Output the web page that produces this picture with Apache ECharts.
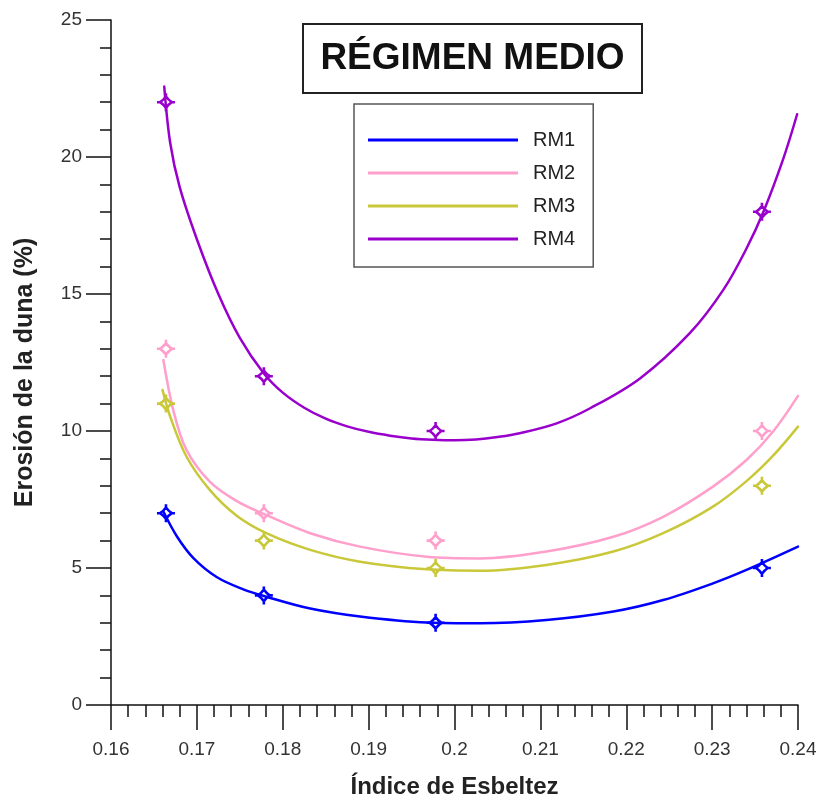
<!DOCTYPE html>
<html>
<head>
<meta charset="utf-8">
<script src="https://cdn.jsdelivr.net/npm/echarts@6/dist/echarts.min.js"></script>
<style>html,body{margin:0;padding:0;background:#fff;}#c{width:820px;height:799px;}</style>
</head>
<body>
<div id="c"></div>
<script>
// ---- data ----
var seriesNames = ['RM1', 'RM2', 'RM3', 'RM4'];
var seriesColors = ['#0000FF', '#FF9FCB', '#C9C83A', '#9900CC'];
var pointX = [0.1664, 0.1778, 0.1978, 0.2358];
var rm1Points = [7, 4, 3, 5];
var rm2Points = [13, 7, 6, 10];
var rm3Points = [11, 6, 5, 8];
var rm4Points = [22, 12, 10, 18];
// fitted curves
var rm1Curve = [[0.1661,7.06],[0.1677,6.14],[0.1696,5.36],[0.1723,4.67],[0.1754,4.22],[0.1781,3.95],[0.1832,3.52],[0.1890,3.23],[0.1968,3.01],[0.2030,2.98],[0.2107,3.10],[0.2185,3.41],[0.2243,3.83],[0.2301,4.44],[0.2340,4.93],[0.2400,5.78]];
var rm2Curve = [[0.1661,12.59],[0.1673,10.70],[0.1688,9.30],[0.1715,8.15],[0.1746,7.45],[0.1781,6.93],[0.1832,6.27],[0.1890,5.78],[0.1968,5.41],[0.2030,5.35],[0.2107,5.60],[0.2185,6.14],[0.2243,6.87],[0.2301,7.97],[0.2340,8.94],[0.2371,9.98],[0.2400,11.28]];
var rm3Curve = [[0.1660,11.50],[0.1669,10.52],[0.1688,9.06],[0.1715,7.85],[0.1746,6.92],[0.1781,6.27],[0.1832,5.66],[0.1890,5.23],[0.1968,4.95],[0.2030,4.90],[0.2107,5.11],[0.2185,5.60],[0.2243,6.27],[0.2301,7.24],[0.2340,8.17],[0.2371,9.10],[0.2400,10.16]];
var rm4Curve = [[0.1662,22.57],[0.1669,20.50],[0.1680,18.90],[0.1700,17.00],[0.1725,15.00],[0.1750,13.40],[0.1778,12.10],[0.1800,11.40],[0.1825,10.85],[0.1850,10.45],[0.1875,10.17],[0.1900,9.97],[0.1925,9.83],[0.1950,9.73],[0.1975,9.68],[0.2000,9.66],[0.2025,9.69],[0.2050,9.78],[0.2076,9.92],[0.2119,10.28],[0.2158,10.83],[0.2216,11.92],[0.2274,13.57],[0.2313,15.15],[0.2340,16.66],[0.2360,18.02],[0.2383,19.95],[0.2399,21.56]];
var xTicks = {min: 0.16, max: 0.24, step: 0.01};
var yTicks = {min: 0, max: 25, step: 5};
var titleText = 'RÉGIMEN MEDIO';
var xName = 'Índice de Esbeltez';
var yName = 'Erosión de la duna (%)';

// ---- chart ----
var chart = echarts.init(document.getElementById('c'), null, {renderer: 'canvas'});
var curves = [rm1Curve, rm2Curve, rm3Curve, rm4Curve];
var points = [rm1Points, rm2Points, rm3Points, rm4Points];
var markerPath = 'path://M0,10H3.5M16.5,10H20M10,0V3.5M10,16.5V20M10,3.5Q12.6,7.4 16.5,10Q12.6,12.6 10,16.5Q7.4,12.6 3.5,10Q7.4,7.4 10,3.5Z';
var series = [];
seriesNames.forEach(function (n, i) {
  series.push({
    name: n, type: 'line', data: curves[i], smooth: 0.35, showSymbol: false,
    lineStyle: {color: seriesColors[i], width: 2.5, cap: 'round'},
    itemStyle: {color: seriesColors[i]}, z: 2
  });
});
seriesNames.forEach(function (n, i) {
  series.push({
    name: n + ' datos', type: 'scatter',
    data: pointX.map(function (x, k) { return [x, points[i][k]]; }),
    symbol: markerPath, symbolSize: 18,
    itemStyle: {color: 'rgba(255,255,255,0)', borderColor: seriesColors[i], borderWidth: 2.6, opacity: 1},
    z: 3
  });
});

var axisFont = {fontFamily: 'Liberation Sans, Arial, sans-serif', fontSize: 19, color: '#333'};
chart.setOption({
  animation: false,
  backgroundColor: '#fff',
  grid: {left: 111, top: 20, width: 687, height: 685, containLabel: false, outerBoundsMode: 'none'},
  legend: {
    data: seriesNames,
    orient: 'vertical', left: 354, top: 104,
    icon: 'rect', itemWidth: 150, itemHeight: 3, itemGap: 13,
    padding: [26, 18, 18, 14],
    borderColor: '#555', borderWidth: 1.5, backgroundColor: '#fff',
    textStyle: {fontFamily: 'Liberation Sans, Arial, sans-serif', fontSize: 20, color: '#222', padding: [0, 0, 0, 10]}
  },
  xAxis: {
    type: 'value', min: xTicks.min, max: xTicks.max, interval: xTicks.step,
    name: xName, nameLocation: 'middle', nameGap: 70,
    nameTextStyle: {fontFamily: 'Liberation Sans, Arial, sans-serif', fontSize: 24, fontWeight: 'bold', color: '#222'},
    axisLine: {lineStyle: {color: '#111', width: 1.5}},
    axisTick: {show: true, length: 25, lineStyle: {color: '#111', width: 1.5}},
    minorTick: {show: true, splitNumber: 5, length: 12, lineStyle: {color: '#111', width: 1.5}},
    splitLine: {show: false},
    axisLabel: Object.assign({margin: 35, formatter: function (v) { return String(+v.toFixed(2)); }}, axisFont)
  },
  yAxis: {
    type: 'value', min: yTicks.min, max: yTicks.max, interval: yTicks.step,
    name: yName, nameLocation: 'middle', nameGap: 73, nameRotate: 90,
    nameTextStyle: {fontFamily: 'Liberation Sans, Arial, sans-serif', fontSize: 25, fontWeight: 'bold', color: '#222', padding: [0, 20, 0, 0]},
    axisLine: {show: true, lineStyle: {color: '#111', width: 1.5}},
    axisTick: {show: true, length: 25, lineStyle: {color: '#111', width: 1.5}},
    minorTick: {show: true, splitNumber: 5, length: 11, lineStyle: {color: '#111', width: 1.5}},
    splitLine: {show: false},
    axisLabel: Object.assign({margin: 29}, axisFont)
  },
  graphic: [{
    type: 'group', left: 302, top: 23,
    children: [
      {type: 'rect', shape: {x: 0, y: 0, width: 339, height: 69}, style: {fill: '#fff', stroke: '#222', lineWidth: 2}},
      {type: 'text', x: 169.5, y: 35, style: {text: titleText, fontFamily: 'Liberation Sans, Arial, sans-serif', fontSize: 37, fontWeight: 'bold', fill: '#111', align: 'center', verticalAlign: 'middle'}}
    ]
  }],
  series: series
});
</script>
</body>
</html>
